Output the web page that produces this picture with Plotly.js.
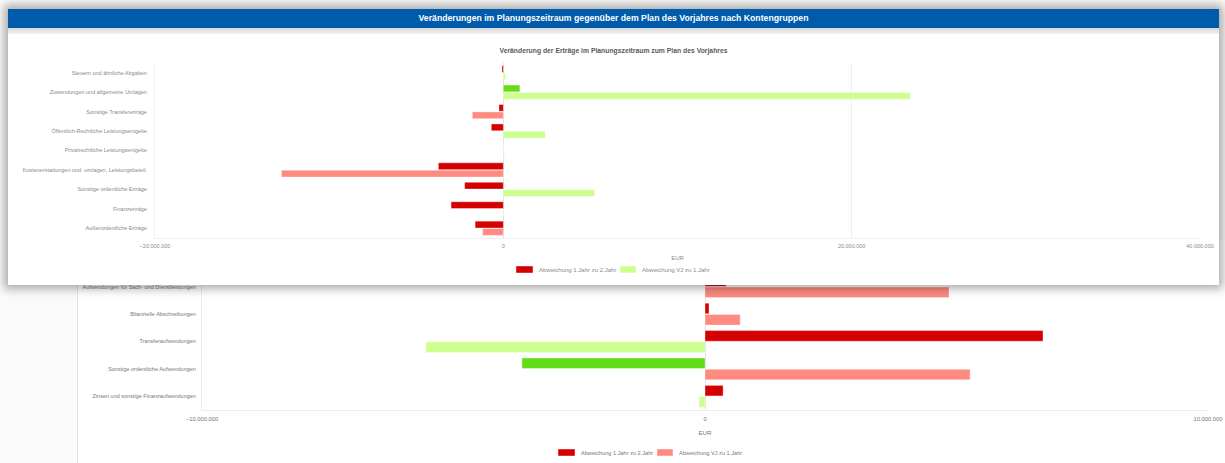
<!DOCTYPE html>
<html>
<head>
<meta charset="utf-8">
<script src="https://cdn.plot.ly/plotly-3.0.1.min.js"></script>
<style>
  html, body { margin:0; padding:0; width:1225px; height:463px; overflow:hidden; background:#fafafa; }
  #back { position:absolute; left:77px; top:240px; width:1148px; height:230px; background:#fff; border-left:1px solid #e4e4e4; }
  #front { position:absolute; left:8px; top:9px; width:1211px; height:276px; background:#fff;
           box-shadow: 0 0 9px 4px rgba(0,0,0,0.32); }
  #hdr { height:19px; background:#005bab; color:#fff; text-align:center;
         font: bold 8.7px "Liberation Sans", Arial, sans-serif; line-height:19px; }
  #band { height:6px; background:linear-gradient(#d8d8d8, #f2f2f2); }
  #plotE { width:1211px; height:251px; }
  #plotA { width:1148px; height:230px; }
</style>
</head>
<body>
<div id="back"><div id="plotA"></div></div>
<div id="front">
  <div id="hdr">Veränderungen im Planungszeitraum gegenüber dem Plan des Vorjahres nach Kontengruppen</div>
  <div id="band"></div>
  <div id="plotE"></div>
</div>
<script>
// ---- Data: Erträge (front chart) ----
const ertragCategories = [
  "Steuern und ähnliche Abgaben",
  "Zuwendungen und allgemeine Umlagen",
  "Sonstige Transfererträge",
  "Öffentlich-Rechtliche Leistungsentgelte",
  "Privatrechtliche Leistungsentgelte",
  "Kostenerstattungen und -umlagen, Leistungsbeteil.",
  "Sonstige ordentliche Erträge",
  "Finanzerträge",
  "Außerordentliche Erträge"
];
const ertragJahr1zu2 = [-80000, 950000, -250000, -690000, 0, -3730000, -2220000, -3000000, -1620000];
const ertragVJzu1    = [120000, 23360000, -1780000, 2410000, 60000, -12740000, 5240000, 40000, -1190000];

// ---- Data: Aufwendungen (back chart) ----
const aufwandCategories = [
  "Aufwendungen für Sach- und Dienstleistungen",
  "Bilanzielle Abschreibungen",
  "Transferaufwendungen",
  "Sonstige ordentliche Aufwendungen",
  "Zinsen und sonstige Finanzaufwendungen"
];
const aufwandJahr1zu2 = [420000, 80000, 6720000, -3640000, 360000];
const aufwandVJzu1    = [4850000, 700000, -5550000, 5270000, -120000];

const seriesNames = ["Abweichung 1.Jahr zu 2.Jahr", "Abweichung VJ zu 1.Jahr"];

// colours: good = green, bad = red
const RED = "#d50000", SALMON = "#ff8a80", GREEN = "#64dd17", LGREEN = "#ccff90";
function colors(vals, goodPositive, strong) {
  return vals.map(v => {
    const good = goodPositive ? v >= 0 : v <= 0;
    if (strong) return good ? GREEN : RED;
    return good ? LGREEN : SALMON;
  });
}

function traces(cats, s1, s2, goodPositive) {
  return [
    { type:"bar", orientation:"h", name:seriesNames[0], y:cats, x:s1,
      marker:{ color:colors(s1, goodPositive, true), line:{color:"rgba(255,255,255,0.6)", width:0.6} },
      hoverinfo:"x+y", showlegend:false },
    { type:"bar", orientation:"h", name:seriesNames[1], y:cats, x:s2,
      marker:{ color:colors(s2, goodPositive, false), line:{color:"rgba(255,255,255,0.6)", width:0.6} },
      hoverinfo:"x+y", showlegend:false }
  ];
}

// Legend drawn as boxes + labels (box colour = first bar of each series, as a chart legend would)
// geometry: plot margins (l,t), plot size (w,h), item pixel layout [boxX0, boxX1, textX], row centre y
function legendParts(m, w, h, items, yc, font) {
  const px = x => (x - m.l) / w;
  const py = y => (m.t + h - y) / h;
  const shapes = [], annotations = [];
  items.forEach(it => {
    shapes.push({ type:"rect", xref:"paper", yref:"paper",
      x0:px(it.b0), x1:px(it.b1), y0:py(yc - 3.5), y1:py(yc + 3.5),
      fillcolor:it.color, line:{ color:"rgba(255,255,255,0.7)", width:0.6 } });
    annotations.push({ xref:"paper", yref:"paper", x:px(it.t), y:py(yc), xanchor:"left", yanchor:"middle",
      text:it.name, showarrow:false, font:font });
  });
  return { shapes, annotations };
}

const cfg = { displayModeBar:false, staticPlot:true };

// Front: Erträge
const mE = { l:147, r:19, t:29, b:47 }, wE = 1211 - 147 - 19, hE = 251 - 29 - 47;
const legE = legendParts(mE, wE, hE, [
  { b0:508, b1:525, t:529, color:colors(ertragJahr1zu2, true, true)[0], name:seriesNames[0] },
  { b0:612, b1:628, t:632, color:colors(ertragVJzu1, true, false)[0], name:seriesNames[1] }
], 235.5, { size:6, color:"#8a8a8a" });

Plotly.newPlot("plotE", traces(ertragCategories, ertragJahr1zu2, ertragVJzu1, true), {
  width:1211, height:251,
  margin:Object.assign({ autoexpand:false }, mE),
  paper_bgcolor:"#fff", plot_bgcolor:"#fff",
  separators:",.",
  barmode:"group", bargap:0.24, bargroupgap:0.08,
  font:{ family:"Liberation Sans, Arial, sans-serif", size:5.5, color:"#8a8a8a" },
  title:{ text:"Veränderung der Erträge im Planungszeitraum zum Plan des Vorjahres",
          font:{ family:"Liberation Sans, Arial, sans-serif", size:6.8, color:"#5a5a5a", weight:"bold" },
          xref:"container", x:0.5, yref:"container", y:1 - 17/251, yanchor:"middle" },
  xaxis:{ range:[-20000000, 40000000], dtick:20000000, tick0:0, tickformat:",d",
          showgrid:true, gridcolor:"#eeeeee", gridwidth:1,
          zeroline:true, zerolinecolor:"#e2e2e2", zerolinewidth:1,
          showline:true, linecolor:"#f0f0f0", ticks:"", ticklen:0, ticklabelstandoff:2,
          tickfont:{ size:5.5, color:"#8a8a8a" },
          title:{ text:"EUR", font:{ size:6, color:"#8a8a8a" }, standoff:8 } },
  yaxis:{ autorange:"reversed", showgrid:false, zeroline:false, ticks:"",
          showline:true, linecolor:"#f0f0f0",
          ticklabelstandoff:6,
          tickfont:{ size:5.5, color:"#8a8a8a" } },
  showlegend:false,
  shapes:legE.shapes, annotations:legE.annotations
}, cfg);

// Back: Aufwendungen
const mA = { l:124, r:18, t:33, b:60 }, wA = 1148 - 124 - 18, hA = 230 - 33 - 60;
const legA = legendParts(mA, wA, hA, [
  { b0:480, b1:497, t:501, color:colors(aufwandJahr1zu2, false, true)[0], name:seriesNames[0] },
  { b0:579, b1:595, t:599, color:colors(aufwandVJzu1, false, false)[0], name:seriesNames[1] }
], 212.5, { size:5.6, color:"#777" });

Plotly.newPlot("plotA", traces(aufwandCategories, aufwandJahr1zu2, aufwandVJzu1, false), {
  width:1148, height:230,
  margin:Object.assign({ autoexpand:false }, mA),
  paper_bgcolor:"#fff", plot_bgcolor:"#fff",
  separators:",.",
  barmode:"group", bargap:0.18, bargroupgap:0.06,
  font:{ family:"Liberation Sans, Arial, sans-serif", size:5.5, color:"#777" },
  xaxis:{ range:[-10000000, 10000000], dtick:10000000, tick0:0, tickformat:",d",
          showgrid:true, gridcolor:"#ececec", gridwidth:1,
          zeroline:true, zerolinecolor:"#e2e2e2", zerolinewidth:1,
          showline:true, linecolor:"#ececec", ticks:"", ticklabelstandoff:3,
          tickfont:{ size:5.8, color:"#777" },
          title:{ text:"EUR", font:{ size:6.2, color:"#777" }, standoff:9 } },
  yaxis:{ autorange:"reversed", showgrid:false, zeroline:false, ticks:"",
          showline:true, linecolor:"#ececec", ticklabelstandoff:4,
          tickfont:{ size:5.5, color:"#777" } },
  showlegend:false,
  shapes:legA.shapes, annotations:legA.annotations
}, cfg);
</script>
</body>
</html>
